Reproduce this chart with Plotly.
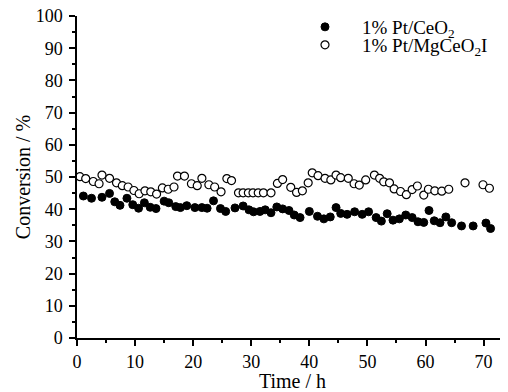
import plotly.graph_objects as go

# Pt/CeO2 (filled)
time_ceo2 = [1.1, 2.5, 4.3, 5.6, 6.5, 7.4, 8.6, 9.6, 10.6, 11.6, 12.6, 13.6, 15.0, 15.8, 17.0,
             17.8, 18.9, 20.3, 21.5, 22.4, 23.5, 24.7, 25.6, 27.2, 28.6, 29.6, 30.4, 31.5, 32.4, 33.4,
             34.4, 35.4, 36.5, 37.4, 38.4, 40.0, 41.4, 42.5, 43.6, 44.6, 45.4, 46.5, 47.8, 49.1, 50.2,
             51.5, 52.4, 53.4, 54.4, 55.5, 56.6, 57.7, 58.7, 59.7, 60.6, 61.5, 62.5, 63.5, 64.5, 66.2,
             68.2, 70.4, 71.2]
conv_ceo2 = [44.1, 43.4, 43.7, 44.9, 42.3, 41.2, 43.4, 41.4, 40.3, 42.0, 40.6, 40.2, 42.5, 42.0, 40.8,
             40.5, 41.1, 40.5, 40.5, 40.3, 42.6, 40.2, 39.3, 40.4, 41.0, 39.8, 39.2, 39.3, 39.8, 38.9,
             40.7, 40.1, 39.6, 38.2, 37.4, 39.3, 37.8, 37.0, 37.6, 40.5, 38.7, 38.4, 39.2, 38.4, 39.2,
             37.4, 36.3, 38.6, 36.6, 37.0, 38.2, 37.4, 36.1, 35.9, 39.6, 36.4, 35.8, 37.6, 35.8, 34.8,
             34.8, 35.7, 34.0]

# Pt/MgCeO2 I (open)
time_mg = [0.5, 1.5, 2.8, 3.8, 4.3, 5.6, 6.8, 7.8, 8.8, 9.8, 10.7, 11.7, 12.7, 13.7, 14.7,
           15.7, 16.7, 17.3, 18.5, 19.7, 20.7, 21.5, 22.7, 23.7, 24.8, 25.8, 26.6, 27.8, 28.6, 29.5,
           30.3, 31.2, 32.1, 33.4, 34.5, 35.4, 36.8, 37.8, 38.8, 39.8, 40.5, 41.5, 42.7, 43.7, 44.6,
           45.4, 46.7, 47.7, 48.6, 49.7, 51.2, 52.1, 52.8, 53.8, 54.6, 55.7, 56.7, 57.7, 58.6, 59.7,
           60.5, 61.6, 62.8, 64.0, 66.8, 69.9, 71.0]
conv_mg = [50.1, 49.5, 48.6, 47.9, 50.6, 49.6, 48.2, 47.3, 46.9, 45.8, 44.8, 45.7, 45.4, 44.7, 46.6,
           46.2, 46.9, 50.3, 50.3, 47.9, 47.3, 49.6, 47.6, 46.9, 45.4, 49.5, 48.9, 45.1, 45.1, 45.1,
           45.1, 45.1, 45.1, 45.1, 48.0, 49.2, 46.8, 45.2, 45.7, 48.2, 51.3, 50.4, 49.6, 49.1, 50.6,
           49.8, 49.6, 47.9, 47.5, 49.1, 50.6, 49.6, 48.5, 48.2, 46.3, 45.5, 44.5, 46.1, 47.2, 44.4,
           46.2, 45.7, 45.6, 46.2, 48.2, 47.6, 46.5]

FONT = "Liberation Serif"

fig = go.Figure()
fig.add_trace(go.Scatter(
    x=time_ceo2, y=conv_ceo2, mode="markers", name="1% Pt/CeO<sub>2</sub>",
    marker=dict(symbol="circle", size=8, color="black", line=dict(color="black", width=1)),
    legend="legend", showlegend=True,
))
fig.add_trace(go.Scatter(
    x=time_mg, y=conv_mg, mode="markers", name="1% Pt/MgCeO<sub>2</sub>I",
    marker=dict(symbol="circle", size=8, color="white", line=dict(color="black", width=1.2)),
    legend="legend2", showlegend=True,
))

axis_common = dict(
    showline=True, linecolor="black", linewidth=1.5, mirror=False,
    ticks="outside", ticklen=6, tickwidth=1.5, tickcolor="black",
    showgrid=False, zeroline=False, automargin=False,
    ticklabeloverflow="allow",
    tickfont=dict(family=FONT, size=18, color="black"),
    minor=dict(ticks="outside", ticklen=3, tickwidth=1.5, tickcolor="black", dtick=5, showgrid=False),
)

fig.update_xaxes(range=[0, 74.2], dtick=10, tick0=0, ticklabelstandoff=1,
                 title=dict(text="Time / h", font=dict(family=FONT, size=20, color="black"), standoff=2),
                 **axis_common)
fig.update_yaxes(range=[0, 100], dtick=10, tick0=0, ticklabelstandoff=3,
                 title=dict(text="Conversion / %", font=dict(family=FONT, size=20, color="black"), standoff=0),
                 **axis_common)

leg_common = dict(xanchor="left", yanchor="middle", bgcolor="rgba(0,0,0,0)",
                  font=dict(family=FONT, size=19, color="black"), itemwidth=64)
# page body has an 8px margin: figure occupies screen x 8..508, y 8..392
# plot area on screen: x 77..508 (431 px), y 16..338 (322 px)
lx = (288 - 77) / 431
fig.update_layout(
    width=500, height=384,
    margin=dict(l=69, r=0, t=8, b=54),
    plot_bgcolor="white", paper_bgcolor="white",
    font=dict(family=FONT, color="black"),
    showlegend=True,
    legend=dict(x=lx, y=(338 - 27) / 322, **leg_common),
    legend2=dict(x=lx, y=(338 - 45) / 322, **leg_common),
)

fig.write_html("out.html")
